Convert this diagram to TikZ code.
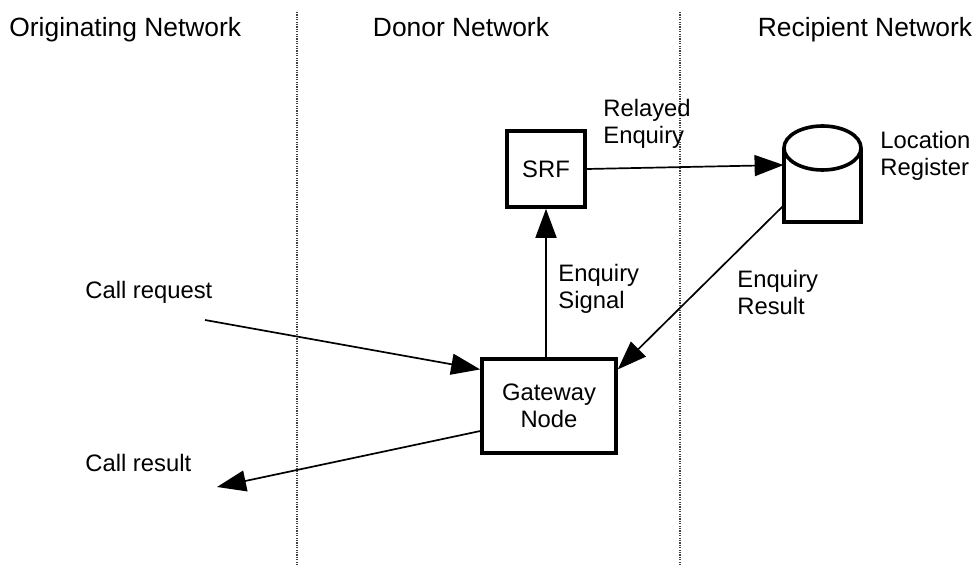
\documentclass[tikz,border=0pt]{standalone}
\usepackage{fontspec}
\setmainfont{Liberation Sans}
\usetikzlibrary{arrows.meta}

\begin{document}
\begin{tikzpicture}
	[x=0.5pt,y=-0.5pt,
	 box/.style={draw,line width=1.8pt,inner sep=0pt,align=center,font=\fontsize{11.9}{13.3}\selectfont},
	 txt/.style={anchor=west,inner sep=0pt,align=left,font=\fontsize{11.9}{13.5}\selectfont},
	 title/.style={anchor=base,inner sep=0pt,font=\fontsize{13.2}{16}\selectfont},
	 arrow/.style={-{Triangle[length=14.5pt,width=10.5pt]},line width=0.85pt},
	 rim/.style={line width=1.8pt},
	 divider/.style={dash pattern=on 0.6pt off 0.6pt,line width=0.6pt,black!75}]

	\useasboundingbox (0,0) rectangle (975,566);

	% network areas
	\node[title,anchor=base west] (orig)  at (9,37)   {Originating Network};
	\node[title]                  (donor) at (461,37) {Donor Network};
	\node[title]                  (recip) at (865,37) {Recipient Network};

	\draw[divider] (297,12) -- (297,566);
	\draw[divider] (680,12) -- (680,566);

	% nodes
	\node[box,minimum width=39pt,minimum height=38pt]   (srf) at (546,169) {SRF};
	\node[box,minimum width=67pt,minimum height=47pt]   (gw)  at (549,406) {Gateway\\Node};
	\node[inner sep=0pt,minimum width=38.5pt,minimum height=48pt] (locreg) at (822.5,174) {};

	\draw[rim] (784,148) -- (784,222) -- (861,222) -- (861,148);
	\draw[rim] (822.5,148) ellipse [x radius=19.25pt, y radius=11pt];

	\coordinate (callreq) at (205,320);
	\coordinate (callres) at (217,487);

	% labels
	\node[txt] (relayed)  at (603,124) {Relayed\\Enquiry};
	\node[txt] (location) at (880,156) {Location\\Register};
	\node[txt] (signal)   at (558,289) {Enquiry\\Signal};
	\node[txt] (result)   at (737,292) {Enquiry\\Result};
	\node[txt] (request)  at (85,292)  {Call request};
	\node[txt] (answer)   at (85,463)  {Call result};

	% signalling
	\draw[arrow] (srf.east) -- (locreg.167);
	\draw[arrow] (locreg.219) -- (gw.28);
	\draw[arrow] (srf.south |- gw.north) -- (srf.south);
	\draw[arrow] (callreq) -- (gw.152);
	\draw[arrow] (gw.200) -- (callres);
\end{tikzpicture}
\end{document}
